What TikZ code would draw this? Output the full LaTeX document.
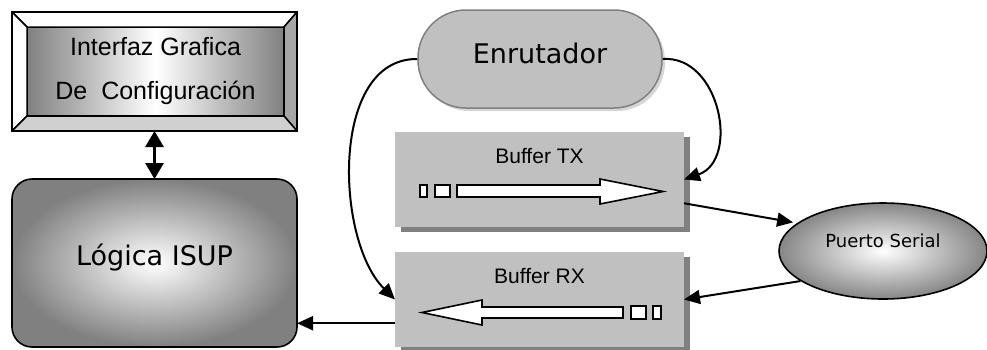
\documentclass[tikz,border=0pt]{standalone}
\usepackage{fontspec}
\setmainfont{Liberation Sans}
\newfontfamily\tahoma{DejaVu Sans}
\usepackage{xcolor}
\usepackage{tikz}
\usetikzlibrary{shapes.geometric,arrows.meta,calc,shadows}
\definecolor{boxgray}{HTML}{C0C0C0}
\definecolor{shadegray}{HTML}{808080}
\definecolor{rimgray}{HTML}{D6D6D6}
\definecolor{bevelright}{HTML}{A6A6A6}
\definecolor{bevelbottom}{HTML}{D0D0D0}

\begin{document}
\begin{tikzpicture}[
    x=1pt, y=-1pt,
    guiframe/.style={rectangle, draw=black, line width=1.8pt, inner sep=0pt, outer sep=0pt, minimum width=285pt, minimum height=119pt},
    guibox/.style={rectangle, draw=black, line width=1.5pt, left color=shadegray, right color=shadegray, middle color=white, outer sep=0pt, minimum width=257pt, minimum height=89pt, align=center, font=\fontsize{25}{44}\selectfont},
    bevel/.style={draw=black, line width=1.5pt, line join=round},
    isupbox/.style={rectangle, rounded corners=20pt, draw=black, line width=1.6pt, inner color=white, outer color=shadegray, outer sep=0pt, minimum width=285pt, minimum height=168pt, text height=20pt, text depth=16pt, font=\tahoma\fontsize{27}{32}\selectfont},
    rtrbox/.style={rectangle, rounded corners=48pt, draw=shadegray, line width=1.5pt, fill=boxgray, drop shadow={shadow xshift=3pt, shadow yshift=-3pt, fill=rimgray, opacity=1}, minimum width=244pt, minimum height=98pt, text height=20pt, text depth=12pt, font=\tahoma\fontsize{27}{32}\selectfont},
    bufbox/.style={rectangle, fill=boxgray, outer sep=0pt, minimum width=289pt, minimum height=95pt, drop shadow={shadow xshift=6pt, shadow yshift=-5pt, fill=shadegray, opacity=1}},
    buflabel/.style={font=\fontsize{21}{25}\selectfont, inner sep=0pt},
    cell/.style={draw=black, line width=1.6pt, fill=white},
    serialbox/.style={ellipse, draw=black, line width=1.6pt, inner color=white, outer color=gray!95, minimum width=208pt, minimum height=96pt, text height=12pt, text depth=20pt, font=\tahoma\fontsize{18}{22}\selectfont},
    arr/.style={-{Triangle[length=16pt,width=14pt]}, line width=2pt},
    dblarr/.style={{Triangle[length=16pt,width=18pt]}-{Triangle[length=16pt,width=18pt]}, line width=3pt}
]
    \useasboundingbox (0,0) rectangle (987,349);

    \node [guiframe] (frame) at (154.5,71.5) {};
    \node [guibox] (gui) at (155.5,71.5) {Interfaz Grafica\\De\ \ Configuración};
    \draw [bevel, fill=white] (frame.north west) -- (frame.north east) -- (gui.north east) -- (gui.north west) -- cycle;
    \draw [bevel, fill=white] (frame.north west) -- (gui.north west) -- (gui.south west) -- (frame.south west) -- cycle;
    \draw [bevel, fill=bevelright] (frame.north east) -- (frame.south east) -- (gui.south east) -- (gui.north east) -- cycle;
    \draw [bevel, fill=bevelbottom] (frame.south west) -- (gui.south west) -- (gui.south east) -- (frame.south east) -- cycle;
    \draw [line width=1.8pt] (frame.north west) rectangle (frame.south east);

    \node [isupbox] (isup) at (154.5,263) {Lógica ISUP};
    \node [rtrbox] (rtr) at (540,59) {Enrutador};

    \node [bufbox] (buftx) at (539.5,179.5) {};
    \node [buflabel] (txlabel) at (539.5,155.5) {Buffer TX};
    \draw [cell] (420,185) rectangle (427,197);
    \draw [cell] (435,185) rectangle (450,197);
    \draw [cell] (457,185) -- (600,185) -- (600,179) -- (663,191.5) -- (600,204) -- (600,197) -- (457,197) -- cycle;

    \node [bufbox] (bufrx) at (539.5,299.5) {};
    \node [buflabel] (rxlabel) at (539.5,275.5) {Buffer RX};
    \draw [cell] (653,306) rectangle (661,319);
    \draw [cell] (631,306) rectangle (646,319);
    \draw [cell] (623,307) -- (482,307) -- (482,300) -- (422,312.5) -- (482,325) -- (482,318) -- (623,318) -- cycle;

    \node [serialbox] (serial) at (883,251) {Puerto Serial};

    \coordinate (txout) at ($(buftx.south east)!.25!(buftx.north east)$);
    \coordinate (rxout) at ($(bufrx.south west)!.25!(bufrx.north west)$);

    \draw [dblarr] (frame) -- (isup);
    \draw [arr] (rtr.west) .. controls (330,58) and (335,240) .. (bufrx.west);
    \draw [arr] (rtr.east) .. controls (720,55) and (740,160) .. (buftx.east);
    \draw [arr, shorten >=4pt] (txout) -- (serial.162);
    \draw [arr] (serial.200) -- (bufrx.east);
    \draw [arr] (rxout) -- (rxout -| isup.east);
\end{tikzpicture}
\end{document}
